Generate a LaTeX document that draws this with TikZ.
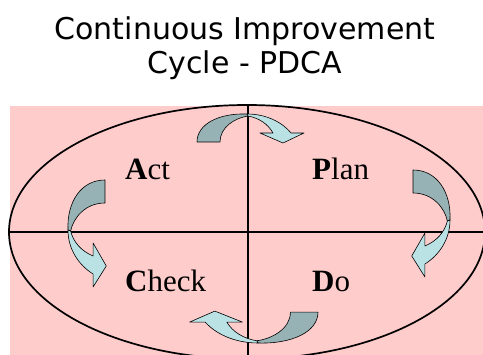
\documentclass[tikz,border=0pt]{standalone}
\usepackage{fontspec}
\setmainfont{Liberation Serif}
\newfontfamily\headfont{DejaVu Sans}
\usepackage{xcolor}
\usepackage{tikz}
\usetikzlibrary{positioning}

\definecolor{quadpink}{RGB}{255,204,204}
\definecolor{arrowback}{RGB}{150,178,180}
\definecolor{arrowfront}{RGB}{186,226,229}

% one curved block arrow, drawn round its twist point
\newcommand{\cyclearrow}[1]{%
  \begin{scope}[#1]
    \filldraw[arrowpart,fill=arrowback] (-50,28) .. controls (-50,10) and (-28,-1) .. (0,0)
      -- (1,2) .. controls (-12,4) and (-27,13) .. (-27,28) -- cycle;
    \filldraw[arrowpart,fill=arrowfront] (0,0) .. controls (19,0) and (35,8) .. (44,19)
      -- (57,19) -- (36,29) -- (13,19) -- (26,19)
      .. controls (21,10) and (12,4) .. (1,2) -- cycle;
  \end{scope}}

\begin{document}
\begin{tikzpicture}[x=1pt,y=-1pt,
  arrowpart/.style={draw=black,line width=0.6pt,line join=round},
  axisline/.style={line width=2.6pt},
  quadlabel/.style={anchor=base west,inner sep=0pt,font=\fontsize{31}{31}\selectfont},
  headline/.style={anchor=base,inner sep=0pt,font=\headfont\fontsize{30}{30}\selectfont}]
	\useasboundingbox (0,0) rectangle (483,355);
	\clip (0,0) rectangle (483,355);
	% heading
	\node[headline] (head1) at (245,40) {Continuous Improvement};
	\node[headline] (head2) at (245,74) {Cycle - PDCA};
	% quadrants
	\fill[quadpink] (10,106) rectangle (483,355);
	\draw[line width=1.7pt] (247,232) ellipse [x radius=238,y radius=127];
	\draw[axisline] (248,106) -- (248,355);
	\draw[axisline] (10,232) -- (483,232);
	\node[quadlabel] (act) at (125,180) {\textbf{A}ct};
	\node[quadlabel] (plan) at (312,180) {\textbf{P}lan};
	\node[quadlabel] (check) at (125,292) {\textbf{C}heck};
	\node[quadlabel] (do) at (312,292) {\textbf{D}o};
	% arrows
	\cyclearrow{shift={(247,114)}}
	\cyclearrow{shift={(450,220)},rotate=-90,yscale=1.32}
	\cyclearrow{shift={(258,343)},rotate=180,xscale=1.2,yscale=1.1}
	\cyclearrow{shift={(68,230)},xscale=-1,rotate=-90,yscale=1.32}
\end{tikzpicture}
\end{document}
